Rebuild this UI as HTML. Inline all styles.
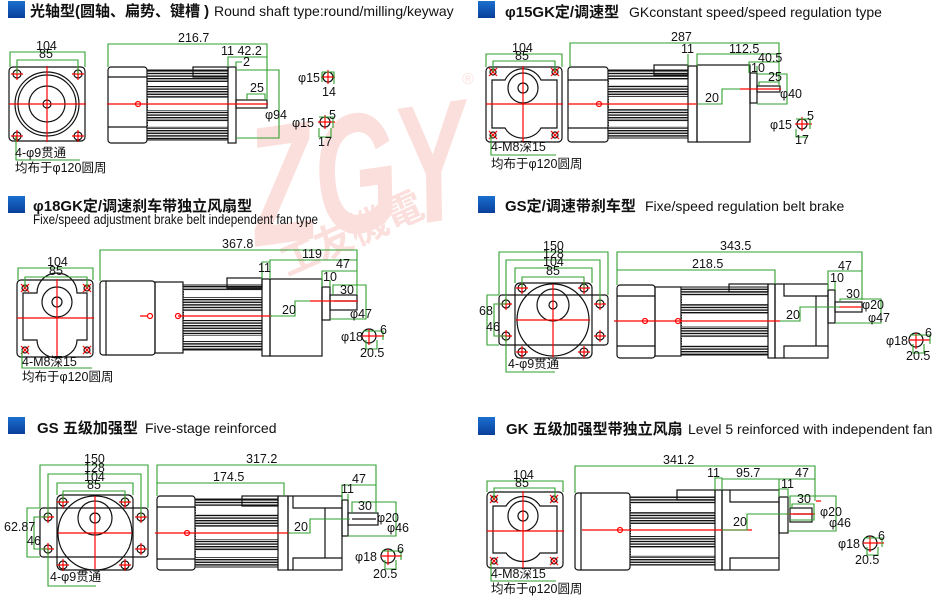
<!DOCTYPE html>
<html><head><meta charset="utf-8"><style>
html,body{margin:0;padding:0;background:#fff;}
svg{display:block;}
.t{font-family:"Liberation Sans","Noto Sans CJK SC",sans-serif;font-size:12.5px;fill:#111;}
.h{font-family:"Liberation Sans","Noto Sans CJK SC",sans-serif;font-weight:bold;font-size:15px;fill:#111;}
.e{font-family:"Liberation Sans","Noto Sans CJK SC",sans-serif;font-size:14px;fill:#111;}
.k{fill:none;stroke:#111;stroke-width:1.2;}
.g{fill:none;stroke:#2ea02e;stroke-width:1.1;}
.r{fill:none;stroke:#f00;stroke-width:1.2;}
</style></head><body>
<svg width="950" height="611" viewBox="0 0 950 611" xmlns="http://www.w3.org/2000/svg">
<defs>
<pattern id="fin" width="4" height="2.6" patternUnits="userSpaceOnUse"><rect width="4" height="2.6" fill="#fff"/><rect width="4" height="1.4" fill="#111"/></pattern>
<linearGradient id="bl" x1="0" y1="0" x2="0" y2="1"><stop offset="0" stop-color="#1a6fd0"/><stop offset="1" stop-color="#0a3f9a"/></linearGradient>
<g id="bh"><circle r="4" class="k"/><path d="M-6 0H6M0 -6V6" class="r"/></g>
<g id="bs"><circle r="3" class="k"/><path d="M-4 -4L4 4M-4 4L4 -4" class="r" stroke-width="1"/></g>
</defs>

<!-- watermark -->
<g opacity="0.16" fill="#e8402a">
<text x="245" y="232" font-family="Liberation Sans,sans-serif" font-weight="bold" font-style="italic" font-size="170" textLength="220" lengthAdjust="spacingAndGlyphs" transform="rotate(-8 355 150)">ZGY</text>
<text x="285" y="275" font-family="Noto Sans CJK SC,sans-serif" font-weight="bold" font-size="38" transform="rotate(-24 290 270)">工友機電</text>
<text x="462" y="84" font-family="Liberation Sans,sans-serif" font-size="16">®</text>
</g>

<!-- ========== Panel 1 ========== -->
<rect x="8" y="1" width="17" height="17" fill="url(#bl)"/>
<text x="30" y="16" class="h">光轴型(圆轴、扁势、键槽 )</text>
<text x="214" y="16" class="e" font-size="13">Round shaft type:round/milling/keyway</text>
<rect x="9" y="67" width="76" height="74" rx="4" class="k"/>
<circle cx="47" cy="104" r="32" class="k"/><circle cx="47" cy="104" r="29" class="k"/>
<circle cx="47" cy="104" r="18" class="k"/><circle cx="47" cy="104" r="4" class="k"/>
<use href="#bh" x="17" y="74"/><use href="#bh" x="78" y="74"/><use href="#bh" x="17" y="136"/><use href="#bh" x="78" y="136"/>
<path d="M9 104H86M47 66V142" class="r"/>
<path d="M10 67V52H85V67M17 74V60H78V74" class="g"/>
<text x="36" y="50" class="t">104</text><text x="39" y="58" class="t">85</text>
<path d="M16 136V160H80" class="g"/>
<text x="15" y="157" class="t" font-size="11">4-φ9贯通</text>
<text x="15" y="172" class="t" font-size="11">均布于φ120圆周</text>
<rect x="108" y="67" width="39" height="76" rx="3" class="k"/>
<path d="M108 77H147M108 127H147" class="k"/>
<rect x="147" y="70" width="81" height="70" fill="url(#fin)" stroke="#111"/>
<rect x="148" y="82" width="80" height="4" fill="#fff"/><rect x="148" y="98" width="80" height="12" fill="#fff"/><rect x="148" y="122" width="80" height="4" fill="#fff"/>
<rect x="193" y="67" width="35" height="10" fill="#fff" class="k"/>
<rect x="228" y="67" width="8" height="76" fill="#fff" class="k"/>
<rect x="236" y="100" width="31" height="8" fill="#fff" class="k"/>
<path d="M107 104H268" class="r"/><circle cx="138" cy="104" r="2.5" class="r"/>
<path d="M108 67V44H267V100M228 67V57H267M236 67V62H242" class="g"/>
<text x="178" y="42" class="t">216.7</text><text x="221" y="55" class="t">11 42.2</text><text x="243" y="66" class="t">2</text>
<path d="M236 70H279V138H236M247 100V94H265V100" class="g"/>
<text x="250" y="92" class="t">25</text><text x="265" y="119" class="t">φ94</text>
<circle cx="328" cy="77" r="5" class="k"/><path d="M321 77H335M328 70V84" class="r"/><path d="M322 72H334V84M322 72V82" class="g"/>
<text x="298" y="82" class="t">φ15</text><text x="322" y="96" class="t">14</text>
<circle cx="325" cy="122" r="5" class="k"/><path d="M318 122H335M325 115V129" class="r"/><path d="M319 117H333V128M319 128V137H331V128" class="g"/>
<text x="292" y="127" class="t">φ15</text><text x="329" y="119" class="t">5</text><text x="318" y="146" class="t">17</text>

<!-- ========== Panel 2 ========== -->
<rect x="478" y="1" width="17" height="17" fill="url(#bl)"/>
<text x="505" y="17" class="h">φ15GK定/调速型</text>
<text x="629" y="17" class="e">GKconstant speed/speed regulation type</text>
<rect x="486" y="67" width="76" height="75" rx="4" class="k"/>
<path d="M492 80H505A20 20 0 0 1 541 80H557V128H541A20 18 0 0 1 505 128H492Z" class="k"/>
<circle cx="523" cy="88" r="15" class="k"/><circle cx="523" cy="88" r="5" class="k"/>
<use href="#bs" x="493" y="72"/><use href="#bs" x="555" y="72"/><use href="#bs" x="493" y="135"/><use href="#bs" x="555" y="135"/>
<path d="M486 104H563M523 66V142" class="r"/>
<path d="M486 67V54H562V67M493 72V61H555V72" class="g"/>
<text x="512" y="52" class="t">104</text><text x="515" y="60" class="t">85</text>
<path d="M491 135V155H556" class="g"/>
<text x="491" y="151" class="t" font-size="11">4-M8深15</text>
<text x="491" y="168" class="t" font-size="11">均布于φ120圆周</text>
<rect x="568" y="67" width="40" height="75" rx="3" class="k"/>
<path d="M568 80H608M568 128H608" class="k"/>
<rect x="608" y="70" width="80" height="68" fill="url(#fin)" stroke="#111"/>
<rect x="609" y="80" width="79" height="5" fill="#fff"/><rect x="609" y="97" width="79" height="12" fill="#fff"/><rect x="609" y="122" width="79" height="4" fill="#fff"/>
<rect x="654" y="65" width="34" height="10" fill="#fff" class="k"/>
<rect x="688" y="66" width="9" height="76" fill="#fff" class="k"/>
<rect x="697" y="65" width="53" height="77" fill="#fff" class="k"/>
<rect x="750" y="73" width="7" height="30" fill="#fff" class="k"/>
<rect x="757" y="86" width="23" height="6" fill="#fff" class="k"/>
<path d="M568 104H697" class="r"/><circle cx="599" cy="104" r="2.5" class="r"/><path d="M740 89H781" class="r"/>
<path d="M570 67V43H779V86M688 66V54M697 66V54H779M749 73V62H779M757 73V66" class="g"/>
<text x="671" y="41" class="t">287</text><text x="681" y="53" class="t">11</text><text x="729" y="53" class="t">112.5</text><text x="758" y="62" class="t">40.5</text><text x="751" y="72" class="t">10</text>
<path d="M759 86V82H779M757 74H787V104H757M697 104H722V89H740" class="g"/>
<text x="768" y="81" class="t">25</text><text x="780" y="98" class="t">φ40</text><text x="705" y="102" class="t">20</text>
<circle cx="802" cy="124" r="5" class="k"/><path d="M795 124H812M802 117V131" class="r"/><path d="M796 119H810V129M796 129V137H808" class="g"/>
<text x="770" y="129" class="t">φ15</text><text x="807" y="120" class="t">5</text><text x="795" y="144" class="t">17</text>

<!-- ========== Panel 3 ========== -->
<rect x="8" y="196" width="17" height="17" fill="url(#bl)"/>
<text x="33" y="211" class="h">φ18GK定/调速刹车带独立风扇型</text>
<text x="33" y="224" class="e" font-size="11" textLength="285" lengthAdjust="spacingAndGlyphs">Fixe/speed adjustment brake belt independent fan type</text>
<rect x="17" y="280" width="76" height="77" rx="4" class="k"/>
<path d="M23 293H37A20 20 0 0 1 77 293H87V340H77A20 18 0 0 1 37 340H23Z" class="k"/>
<circle cx="57" cy="302" r="15" class="k"/><circle cx="57" cy="302" r="5" class="k"/>
<use href="#bs" x="25" y="288"/><use href="#bs" x="87" y="288"/><use href="#bs" x="25" y="350"/><use href="#bs" x="87" y="350"/>
<path d="M17 318H94M57 279V357" class="r"/>
<path d="M18 280V268H93V280M25 288V277H87V288" class="g"/>
<text x="47" y="266" class="t">104</text><text x="49" y="275" class="t">85</text>
<path d="M22 350V368H92" class="g"/>
<text x="22" y="366" class="t" font-size="11">4-M8深15</text>
<text x="22" y="381" class="t" font-size="11">均布于φ120圆周</text>
<rect x="100" y="281" width="55" height="74" rx="3" class="k"/><path d="M106 281V355" class="k"/>
<rect x="155" y="282" width="28" height="71" class="k"/>
<rect x="183" y="285" width="79" height="65" fill="url(#fin)" stroke="#111"/>
<rect x="184" y="291" width="78" height="6" fill="#fff"/><rect x="184" y="312" width="78" height="8" fill="#fff"/><rect x="184" y="336" width="78" height="5" fill="#fff"/>
<rect x="227" y="278" width="35" height="10" fill="#fff" class="k"/>
<rect x="262" y="279" width="8" height="77" fill="#fff" class="k"/>
<rect x="270" y="279" width="52" height="77" fill="#fff" class="k"/>
<rect x="322" y="287" width="8" height="33" fill="#fff" class="k"/>
<rect x="330" y="295" width="27" height="15" fill="#fff" class="k"/><path d="M334 301H356" class="k"/>
<path d="M178 316H272M140 316H147" class="r"/><circle cx="150" cy="316" r="2.5" class="r"/><circle cx="178" cy="316" r="2.5" class="r"/><path d="M310 301H358" class="r"/>
<path d="M100 281V250H357V295M262 279V262H270V279M270 262V260H357M322 287V271H357M330 287V280" class="g"/>
<text x="222" y="248" class="t">367.8</text><text x="258" y="272" class="t">11</text><text x="302" y="258" class="t">119</text><text x="336" y="268" class="t">47</text><text x="323" y="281" class="t">10</text>
<path d="M333 295V285H366V319H330M270 316H295V301H310" class="g"/>
<text x="340" y="294" class="t">30</text><text x="350" y="318" class="t">φ47</text><text x="282" y="314" class="t">20</text>
<circle cx="369" cy="336" r="7" class="k"/><path d="M362 336H384M369 329V345" class="r"/><path d="M363 331H383V340M366 340V349H377V340" class="g"/>
<text x="341" y="341" class="t">φ18</text><text x="380" y="334" class="t">6</text><text x="360" y="357" class="t">20.5</text>

<!-- ========== Panel 4 ========== -->
<rect x="478" y="196" width="17" height="17" fill="url(#bl)"/>
<text x="505" y="211" class="h">GS定/调速带刹车型</text>
<text x="645" y="211" class="e">Fixe/speed regulation belt brake</text>
<rect x="499" y="295" width="109" height="50" rx="3" class="k"/>
<rect x="515" y="283" width="77" height="75" rx="5" class="k"/>
<rect x="516" y="296" width="75" height="48" fill="#fff"/>
<circle cx="553" cy="320" r="36" class="k" fill="#fff"/>
<circle cx="553" cy="305" r="16" class="k"/><circle cx="553" cy="305" r="4" class="k"/>
<use href="#bh" x="522" y="288"/><use href="#bh" x="584" y="288"/><use href="#bh" x="506" y="304"/><use href="#bh" x="600" y="304"/>
<use href="#bh" x="506" y="336"/><use href="#bh" x="600" y="336"/><use href="#bh" x="522" y="352"/><use href="#bh" x="584" y="352"/>
<path d="M516 320H590M553 284V357" class="r"/>
<path d="M499 295V252H608V295M506 304V260H600V304M515 283V268H592V283M522 288V277H584V288" class="g"/>
<text x="543" y="250" class="t">150</text><text x="543" y="258" class="t">128</text><text x="543" y="266" class="t">104</text><text x="546" y="275" class="t">85</text>
<path d="M499 295H487V345H499M506 304H494V336H506" class="g"/>
<text x="479" y="315" class="t">68</text><text x="486" y="331" class="t">46</text>
<path d="M506 336V372H555" class="g"/>
<text x="508" y="368" class="t" font-size="11">4-φ9贯通</text>
<rect x="617" y="285" width="38" height="73" rx="3" class="k"/><path d="M617 296H655M617 346H655" class="k"/>
<rect x="655" y="287" width="26" height="69" class="k"/>
<rect x="681" y="287" width="87" height="68" fill="url(#fin)" stroke="#111"/>
<rect x="682" y="296" width="86" height="8" fill="#fff"/><rect x="682" y="314" width="86" height="12" fill="#fff"/><rect x="682" y="338" width="86" height="7" fill="#fff"/>
<rect x="729" y="284" width="39" height="8" fill="#fff" class="k"/>
<rect x="768" y="284" width="7" height="74" fill="#fff" class="k"/>
<rect x="775" y="284" width="53" height="74" fill="#fff" class="k"/>
<path d="M784 284V296H828M784 358V346H828M816 296V346" class="k"/>
<rect x="828" y="290" width="7" height="33" fill="#fff" class="k"/>
<rect x="835" y="302" width="27" height="10" fill="#fff" class="k"/><path d="M839 307H861" class="r"/>
<path d="M614 321H780" class="r"/><circle cx="645" cy="321" r="2.5" class="r"/><circle cx="678" cy="321" r="2.5" class="r"/>
<path d="M617 285V252H862V300M617 285V270H775V284M828 290V271H862M835 290V282" class="g"/>
<text x="720" y="250" class="t">343.5</text><text x="692" y="268" class="t">218.5</text><text x="838" y="270" class="t">47</text><text x="830" y="282" class="t">10</text>
<path d="M840 302V299H881V323H835M780 321H800V307H840" class="g"/>
<text x="846" y="298" class="t">30</text><text x="862" y="309" class="t">φ20</text><text x="868" y="322" class="t">φ47</text><text x="786" y="319" class="t">20</text>
<circle cx="916" cy="340" r="7" class="k"/><path d="M909 340H930M916 333V349" class="r"/><path d="M910 335H930V344M913 344V353H924V344" class="g"/>
<text x="886" y="345" class="t">φ18</text><text x="925" y="337" class="t">6</text><text x="906" y="360" class="t">20.5</text>

<!-- ========== Panel 5 ========== -->
<rect x="8" y="417" width="17" height="17" fill="url(#bl)"/>
<text x="37" y="433" class="h">GS 五级加强型</text>
<text x="145" y="433" class="e" font-size="15">Five-stage reinforced</text>
<rect x="40" y="508" width="108" height="49" rx="3" class="k"/>
<rect x="57" y="495" width="76" height="75" rx="5" class="k"/>
<rect x="58" y="509" width="74" height="47" fill="#fff"/>
<circle cx="95" cy="533" r="37" class="k" fill="#fff"/>
<circle cx="95" cy="518" r="17" class="k"/><circle cx="95" cy="518" r="5" class="k"/>
<use href="#bh" x="63" y="502"/><use href="#bh" x="125" y="502"/><use href="#bh" x="48" y="517"/><use href="#bh" x="141" y="517"/>
<use href="#bh" x="48" y="549"/><use href="#bh" x="141" y="549"/><use href="#bh" x="63" y="565"/><use href="#bh" x="125" y="565"/>
<path d="M58 533H132M95 496V569" class="r"/>
<path d="M40 508V465H148V508M48 517V474H141V517M57 495V483H133V495M63 502V491H125V502" class="g"/>
<text x="84" y="463" class="t">150</text><text x="84" y="472" class="t">128</text><text x="84" y="481" class="t">104</text><text x="87" y="489" class="t">85</text>
<path d="M40 508H27V557H40M48 517H34V549H48" class="g"/>
<text x="4" y="531" class="t">62.87</text><text x="27" y="545" class="t">46</text>
<path d="M48 549V586H96" class="g"/>
<text x="50" y="581" class="t" font-size="11">4-φ9贯通</text>
<rect x="157" y="496" width="38" height="74" rx="3" class="k"/><path d="M157 507H195M157 559H195" class="k"/>
<rect x="195" y="499" width="83" height="68" fill="url(#fin)" stroke="#111"/>
<rect x="196" y="507" width="82" height="7" fill="#fff"/><rect x="196" y="527" width="82" height="12" fill="#fff"/><rect x="196" y="551" width="82" height="6" fill="#fff"/>
<rect x="242" y="496" width="36" height="10" fill="#fff" class="k"/>
<rect x="278" y="496" width="10" height="74" fill="#fff" class="k"/>
<rect x="288" y="496" width="54" height="74" fill="#fff" class="k"/>
<path d="M293 496V508H342M293 570V558H342M325 508V558" class="k"/>
<rect x="342" y="500" width="6" height="36" fill="#fff" class="k"/>
<rect x="348" y="513" width="30" height="12" fill="#fff" class="k"/><path d="M352 519H376" class="k"/>
<path d="M155 533H290" class="r"/><circle cx="187" cy="533" r="2.5" class="r"/>
<path d="M157 496V465H376V513M157 496V483H284V496M342 500V485H376M348 500V494" class="g"/>
<text x="246" y="463" class="t">317.2</text><text x="213" y="481" class="t">174.5</text><text x="352" y="483" class="t">47</text><text x="341" y="493" class="t">11</text>
<path d="M352 513V502H396V536H348M288 533H310V519H350" class="g"/>
<text x="358" y="510" class="t">30</text><text x="377" y="522" class="t">φ20</text><text x="387" y="532" class="t">φ46</text><text x="294" y="531" class="t">20</text>
<circle cx="388" cy="556" r="7" class="k"/><path d="M381 556H402M388 549V565" class="r"/><path d="M382 551H401V560M385 560V569H396V560" class="g"/>
<text x="355" y="561" class="t">φ18</text><text x="397" y="553" class="t">6</text><text x="373" y="578" class="t">20.5</text>

<!-- ========== Panel 6 ========== -->
<rect x="478" y="417" width="17" height="18" fill="url(#bl)"/>
<text x="506" y="434" class="h">GK 五级加强型带独立风扇</text>
<text x="688" y="434" class="e" font-size="12.5">Level 5 reinforced with independent fan</text>
<rect x="487" y="492" width="76" height="76" rx="4" class="k"/>
<path d="M493 506H506A20 20 0 0 1 540 506H557V553H540A20 18 0 0 1 506 553H493Z" class="k"/>
<circle cx="523" cy="516" r="15" class="k"/><circle cx="523" cy="516" r="5" class="k"/>
<use href="#bs" x="494" y="499"/><use href="#bs" x="554" y="499"/><use href="#bs" x="494" y="561"/><use href="#bs" x="554" y="561"/>
<path d="M487 531H564M523 491V568" class="r"/>
<path d="M487 492V481H563V492M494 499V488H555V499" class="g"/>
<text x="513" y="479" class="t">104</text><text x="515" y="487" class="t">85</text>
<path d="M491 561V581H556" class="g"/>
<text x="491" y="578" class="t" font-size="11">4-M8深15</text>
<text x="491" y="593" class="t" font-size="11">均布于φ120圆周</text>
<rect x="575" y="493" width="55" height="77" rx="3" class="k"/><path d="M581 493V570" class="k"/>
<rect x="630" y="497" width="85" height="68" fill="url(#fin)" stroke="#111"/>
<rect x="631" y="504" width="84" height="8" fill="#fff"/><rect x="631" y="524" width="84" height="12" fill="#fff"/><rect x="631" y="548" width="84" height="7" fill="#fff"/>
<rect x="677" y="490" width="38" height="10" fill="#fff" class="k"/>
<rect x="715" y="490" width="7" height="80" fill="#fff" class="k"/>
<rect x="722" y="490" width="57" height="80" fill="#fff" class="k"/>
<path d="M730 490V502H779M730 570V558H779" class="k"/>
<rect x="779" y="497" width="9" height="36" fill="#fff" class="k"/>
<rect x="790" y="508" width="22" height="14" fill="#fff" class="k"/><path d="M793 514H812" class="k"/>
<path d="M582 530H752M786 514H815M816 501H821" class="r"/><circle cx="620" cy="530" r="2.5" class="r"/>
<path d="M575 493V466H815V501M715 490V478H722V490M722 479H815M779 497V479M779 489H788V497" class="g"/>
<text x="663" y="464" class="t">341.2</text><text x="707" y="477" class="t">11</text><text x="736" y="477" class="t">95.7</text><text x="795" y="477" class="t">47</text><text x="781" y="488" class="t">11</text>
<path d="M790 508V496H836V531H788M792 508V504H814V520H790M722 530H747V514H790" class="g"/>
<text x="797" y="503" class="t">30</text><text x="820" y="516" class="t">φ20</text><text x="829" y="527" class="t">φ46</text><text x="733" y="526" class="t">20</text>
<circle cx="870" cy="543" r="7" class="k"/><path d="M863 543H884M870 536V552" class="r"/><path d="M864 538H882V547M867 547V555H878V547" class="g"/>
<text x="838" y="548" class="t">φ18</text><text x="878" y="540" class="t">6</text><text x="855" y="564" class="t">20.5</text>
</svg>
</body></html>
